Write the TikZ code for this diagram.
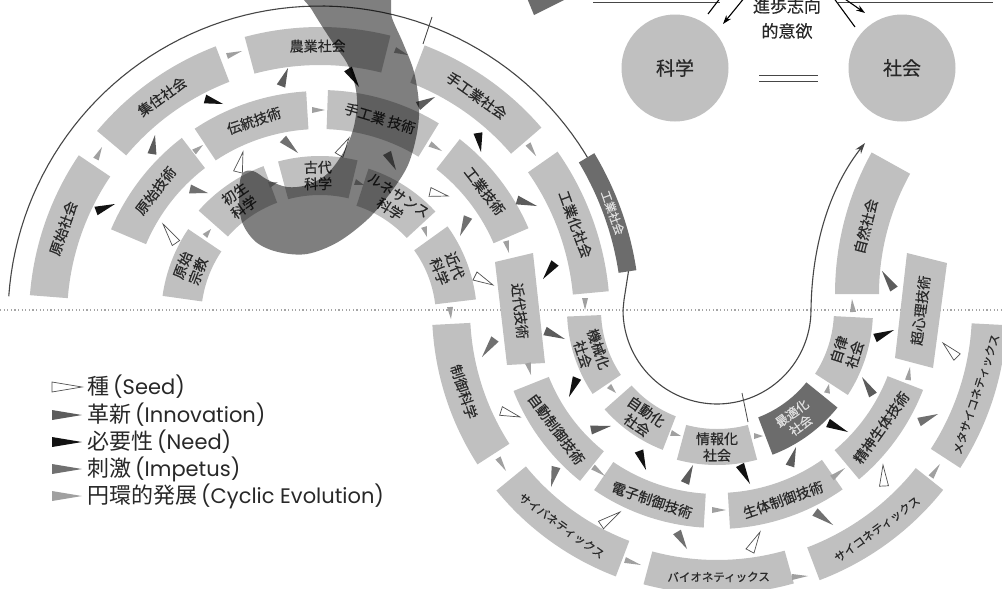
\documentclass[tikz,border=0pt]{standalone}
\usepackage{fontspec}
\setmainfont{Noto Sans CJK JP}
\newfontfamily\jpm{Noto Sans CJK JP}[FakeBold=0.45]
\newfontfamily\latinf{Poppins}
\usetikzlibrary{calc,arrows.meta}
\definecolor{boxgray}{RGB}{192,192,192}
\definecolor{darkbox}{RGB}{108,108,108}
\definecolor{txt}{RGB}{40,40,40}
\definecolor{linegray}{RGB}{70,70,70}
\definecolor{dotgray}{RGB}{165,165,165}
\definecolor{innov}{RGB}{92,92,92}
\definecolor{impc}{RGB}{112,112,112}
\definecolor{needc}{RGB}{18,18,18}
\definecolor{cycc}{RGB}{160,160,160}
\definecolor{seedline}{RGB}{80,80,80}
\newcommand\seg[7]{%
 \fill[#1] plot[domain=#4:#5,samples=25] ({#2+#7*cos(\x)},{#3-#7*sin(\x)}) -- plot[domain=#5:#4,samples=25] ({#2+#6*cos(\x)},{#3-#6*sin(\x)}) -- cycle;
 \pgfmathsetmacro\tmpA{(#4+#5)/2}\pgfmathsetmacro\tmpR{(#6+#7)/2}%
 \xdef\AM{\tmpA}\xdef\RM{\tmpR}\xdef\CX{#2}\xdef\CY{#3}}
\newcommand\lab[4]{\node[#2,rotate={\AM#3}] (#1) at ({\CX+\RM*cos(\AM)},{\CY-\RM*sin(\AM)}) {#4};}
\newcommand\tri[4][4.5]{\path[#2] ($(#3)!#1pt!90:(#4)$) -- (#4) -- ($(#3)!#1pt!-90:(#4)$) -- cycle;}
\newcommand\legj[1]{{\fontsize{22}{24}\selectfont #1}\hspace{4pt}}
\newcommand\legl[1]{{\latinf\fontsize{21}{24}\selectfont #1}}
\begin{document}
\begin{tikzpicture}[x=1pt,y=-1pt,
 lbl/.style={font=\jpm\fontsize{14}{16.5}\selectfont, text=txt, align=center, inner sep=0pt},
 klbl/.style={font=\jpm\fontsize{11.5}{14}\selectfont, text=txt, align=center, inner sep=0pt},
 dlbl/.style={font=\jpm\fontsize{12.5}{15}\selectfont, text=white!88!black, align=center, inner sep=0pt},
 boxfill/.style={fill=boxgray},
 darkfill/.style={fill=darkbox},
 seedT/.style={fill=white, draw=seedline, line width=0.7pt},
 innT/.style={fill=innov},
 needT/.style={fill=needc},
 impT/.style={fill=impc},
 cycT/.style={fill=cycc},
 thinline/.style={draw=linegray, line width=1.1pt},
 legtxt/.style={text=txt, inner sep=0pt, anchor=west},
 circ/.style={circle, fill=boxgray, minimum size=107pt, inner sep=0pt, font=\jpm\fontsize{19}{22}\selectfont, text=txt}]
\useasboundingbox (0,0) rectangle (1002,589);
\clip (0,0) rectangle (1002,589);
\fill[white] (0,0) rectangle (1002,589);
% dotted divider
\draw[dotgray, line width=1.2pt, dash pattern=on 1.2pt off 2.4pt] (0,310) -- (1002,310);
% thin evolution line
\draw[thinline] plot[domain=176:8.6, samples=80] ({320+312*cos(\x)},{318-312*sin(\x)}) -- (624,300) -- plot[domain=180:360, samples=60] ({717+94*cos(\x)},{310-94*sin(\x)}) coordinate (uend);
\coordinate (goal) at (865,143);
\draw[thinline, -{Stealth[length=11pt,width=7pt]}] (uend) .. controls (812,240) and (832,185) .. (goal);
\draw[thinline, line width=0.8pt] (432,17) -- (423,44);
\draw[thinline, line width=0.8pt] (742,393) -- (748,422);
% ---------- top half (centre 320,318) ----------
\seg{boxfill}{320}{318}{146}{175.5}{253}{291}\lab{s1}{lbl}{-90}{原始社会}
\seg{boxfill}{320}{318}{111}{140}{253}{291}\lab{s2}{lbl}{-90}{集住社会}
\seg{boxfill}{320}{318}{76}{105}{253}{291}\lab{s3}{lbl}{-90}{農業社会}
\seg{boxfill}{320}{318}{40.7}{69}{252}{292}\lab{s4}{lbl}{-90}{手工業社会}
\seg{boxfill}{320}{318}{5.3}{35}{254}{290}\lab{s5}{lbl}{-90}{工業化社会}
\seg{darkfill}{320}{318}{8.6}{31}{302}{320}\lab{sind}{dlbl}{-90}{\fontsize{11.5}{13}\selectfont 工業社会}
\seg{boxfill}{320}{318}{127.5}{157}{189}{227}\lab{t1}{lbl}{-90}{原始技術}
\seg{boxfill}{320}{318}{93.5}{123.5}{189}{227}\lab{t2}{lbl}{-90}{伝統技術}
\seg{boxfill}{320}{318}{58.6}{88}{189}{228}\lab{t3}{lbl}{-90}{手工業 技術}
\seg{boxfill}{320}{318}{23.3}{52}{189}{227}\lab{t4}{lbl}{-90}{工業技術}
\seg{boxfill}{320}{318}{146}{172}{119}{159}\lab{c1}{lbl}{-90}{原始\\宗教}
\seg{boxfill}{320}{318}{110.4}{138.5}{123}{162}\lab{c2}{lbl}{-90}{初生\\科学}
\seg{boxfill}{320}{318}{76.6}{105}{123}{162}\lab{c3}{lbl}{-90}{古代\\科学}
\seg{boxfill}{320}{318}{42.7}{72}{118}{157}\lab{c4}{lbl}{-90}{ルネサンス\\科学}
\seg{boxfill}{320}{318}{6.8}{35.7}{116}{157}\lab{c5}{lbl}{-90}{近代\\科学}
% transition box
\fill[boxfill] (495,262) -- (533,253) -- (545,363) -- (507,365) -- cycle;
\node[lbl, rotate=-84] (t5) at (520,311) {近代技術};
% ---------- bottom half (centre 717,310) ----------
\seg{boxfill}{717}{310}{182.5}{214}{116}{150}\lab{s6}{lbl}{+90}{機械化\\社会}
\seg{boxfill}{717}{310}{221.5}{248.8}{114}{150}\lab{s7}{lbl}{+90}{自動化\\社会}
\seg{boxfill}{717}{310}{255}{285}{119}{155}\lab{s8}{lbl}{+90}{情報化\\社会}
\seg{darkfill}{717}{310}{291}{321}{115}{155}\lab{s9}{dlbl}{+90}{最適化\\社会}
\seg{boxfill}{717}{310}{327}{357}{117}{156}\lab{s10}{lbl}{+90}{自律\\社会}
\seg{boxfill}{717}{310}{201.7}{231.3}{181}{219}\lab{t6}{lbl}{+90}{自動制御技術}
\seg{boxfill}{717}{310}{235.7}{266.5}{184}{218}\lab{t7}{lbl}{+90}{電子制御技術}
\seg{boxfill}{717}{310}{273.4}{305}{183}{219}\lab{t8}{lbl}{+90}{生体制御技術}
\seg{boxfill}{717}{310}{310}{338.8}{183}{221}\lab{t9}{lbl}{+90}{精神生体技術}
\seg{boxfill}{717}{310}{183}{212.8}{247}{285}\lab{c6}{lbl}{+90}{制御科学}
\seg{boxfill}{717}{310}{219.3}{249.2}{247}{285}\lab{c7}{klbl}{+90}{サイバネティックス}
\seg{boxfill}{717}{310}{255}{285.7}{250}{284}\lab{c8}{klbl}{+90}{バイオネティックス}
\seg{boxfill}{717}{310}{290.8}{321.5}{254}{289}\lab{c9}{klbl}{+90}{サイコネティックス}
\seg{boxfill}{717}{310}{327}{357}{255}{290}\lab{c10}{klbl}{+90}{メタサイコネティックス}
% right side, rising
\seg{boxfill}{1127}{294}{151}{180}{248}{292}\lab{s11}{lbl}{-90}{自然社会}
\fill[boxfill] (907,253) -- (947,263) -- (933,368) -- (895,358) -- cycle;
\node[lbl, rotate=83] (t10) at (920.5,310.5) {超心理技術};
% ---------- triangles ----------
\tri[3]{cycT}{96,159}{102,147}
\tri{innT}{152,154}{155,135}
\tri{needT}{96,211}{115,204}
\tri{seedT}{176,243}{163,224}
\tri{impT}{190,189}{208,193}
\tri[3]{cycT}{194,152}{203,145}
\tri{needT}{205,99}{223,104}
\tri[3]{cycT}{227,56}{242,51}
\tri{innT}{281,86}{288,68}
\tri[3]{cycT}{312,110}{325,110}
\tri{impT}{283,139}{298,153}
\tri{seedT}{238,172}{243,152}
\tri{seedT}{339,155}{349,138}
\tri{needT}{348,69}{359,87}
\tri[3]{cycT}{395,50}{408,55}
\tri{innT}{418,106}{435,97}
\tri{impT}{387,153}{396,170}
\tri{seedT}{430,192}{448,196}
\tri{needT}{478,133}{481,152}
\tri{impT}{468,217}{460,236}
\tri{seedT}{475,276}{493,285}
\tri[3]{cycT}{450,307}{451,319}
\tri{innT}{517,200}{537,206}
\tri{needT}{555,263}{543,279}
\tri[3]{cycT}{528,144}{536,156}
\tri[3]{cycT}{430,144}{442,151}
\tri[3]{cycT}{506,241}{509,253}
\tri[3]{cycT}{424,227}{427,237}
\tri[3]{cycT}{205,236}{211,229}
\tri[3]{cycT}{269,185}{278,182}
\tri[3]{cycT}{355,182}{364,185}
\tri[3]{cycT}{585,298}{585,310}
\tri{impT}{495,339}{482,357}
\tri{innT}{545,331}{565,339}
\tri[3]{cycT}{528,363}{531,375}
\tri{needT}{577,378}{569,397}
\tri[3]{cycT}{609,386}{616,393}
\tri{seedT}{501,411}{520,417}
\tri[3]{cycT}{498,458}{506,471}
\tri{impT}{556,467}{551,487}
\tri{innT}{591,430}{611,426}
\tri[3]{cycT}{593,467}{605,476}
\tri{needT}{639,451}{646,470}
\tri[3]{cycT}{671,433}{681,436}
\tri{innT}{685,483}{693,465}
\tri{seedT}{601,525}{620,512}
\tri{impT}{677,532}{687,549}
\tri[3]{cycT}{625,560}{641,565}
\tri[3]{cycT}{754,436}{763,436}
\tri{needT}{740,465}{750,484}
\tri{innT}{790,466}{796,447}
\tri[3]{cycT}{712,510}{726,510}
\tri{needT}{828,423}{848,432}
\tri[3]{cycT}{827,393}{829,384}
\tri{innT}{873,395}{862,377}
\tri[3]{cycT}{832,478}{845,468}
\tri{seedT}{750,551}{760,532}
\tri{impT}{815,512}{833,525}
\tri[3]{cycT}{792,577}{808,576}
\tri{seedT}{884,486}{883,465}
\tri[3]{cycT}{931,477}{940,464}
\tri{impT}{919,422}{938,414}
\tri[3]{cycT}{908,380}{910,367}
\tri{needT}{875,338}{894,330}
\tri{seedT}{957,357}{943,343}
\tri{innT}{894,289}{882,271}
\tri[3]{cycT}{853,312}{852,299}
% ---------- translucent hook ----------
\fill[black, fill opacity=0.5] plot[smooth cycle, tension=0.55] coordinates {(300,-15) (312,10) (333,43) (347,63) (355,85) (357,105) (353,130) (343,153) (327,174) (307,185) (287,187) (268,180) (253,171) (242,174) (239,195) (242,222) (256,242) (278,252) (307,254) (338,242) (368,219) (391,192) (408,165) (417,133) (419,105) (414,72) (403,43) (392,18) (382,-15)};
\fill[darkbox] (527,-2) -- (568,-2) -- (534,15) -- cycle;
% ---------- top right ----------
\draw[linegray, line width=0.9pt] (593,2) -- (720,2);
\draw[linegray, line width=0.9pt] (838,2) -- (993,2);
\node[circ] (kagaku) at (675,68) {科学};
\node[circ] (shakai) at (902,68) {社会};
\draw[linegray, line width=1pt] (759,75) -- (818,75);
\draw[linegray, line width=1pt] (759,81) -- (818,81);
\node[font=\jpm\fontsize{17}{18}\selectfont, text=txt, inner sep=0pt] (shiko) at (787,6) {進歩志向};
\node[font=\jpm\fontsize{17}{18}\selectfont, text=txt, inner sep=0pt] (iyoku) at (787,31) {的意欲};
\draw[black, line width=1.1pt] (708,14) -- (721,-3);
\draw[black, line width=1.1pt, -{Stealth[length=9pt,width=6pt]}] (745,-3) -- (723,24);
\draw[black, line width=1.1pt] (855,27) -- (833,-3);
\draw[black, line width=1.1pt, -{Stealth[length=9pt,width=6pt]}] (842,-3) -- (865,13);
% ---------- legend ----------
\tri[5]{seedT}{52,387}{82,387}
\tri[5]{innT}{52,415}{82,415}
\tri[5]{needT}{52,442}{82,442}
\tri[5]{impT}{52,469}{82,469}
\tri[5]{cycT}{52,496}{82,496}
\node[legtxt] (lg1) at (87,387) {\legj{種}\legl{(Seed)}};
\node[legtxt] (lg2) at (87,415) {\legj{革新}\legl{(Innovation)}};
\node[legtxt] (lg3) at (87,442) {\legj{必要性}\legl{(Need)}};
\node[legtxt] (lg4) at (87,469) {\legj{刺激}\legl{(Impetus)}};
\node[legtxt] (lg5) at (87,496) {\legj{円環的発展}\legl{(Cyclic Evolution)}};
\end{tikzpicture}
\end{document}
